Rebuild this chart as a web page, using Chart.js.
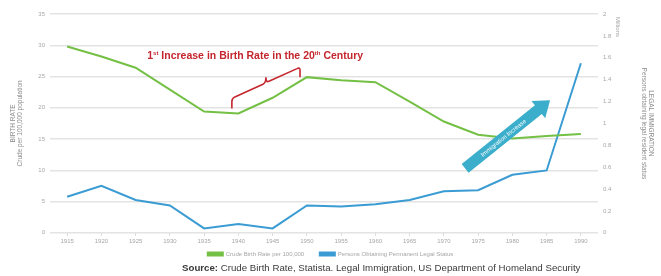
<!DOCTYPE html>
<html>
<head>
<meta charset="utf-8">
<script src="https://cdn.jsdelivr.net/npm/chart.js@4.4.1/dist/chart.umd.min.js"></script>
<style>
  html, body { margin: 0; padding: 0; background: #fff; }
  #wrap { width: 661px; height: 276px; position: relative; }
</style>
</head>
<body>
<div id="wrap"><canvas id="chart"></canvas></div>
<script>
// years on the category axis
const years = ['1915','1920','1925','1930','1935','1940','1945','1950','1955','1960','1965','1970','1975','1980','1985','1990'];
// crude birth rate (left axis)
const birthRate = [29.8, 28.2, 26.4, 22.9, 19.4, 19.1, 21.6, 24.9, 24.4, 24.1, 21.0, 17.8, 15.7, 15.1, 15.5, 15.8];
// persons obtaining permanent legal status, millions (right axis)
const immigration = [0.33, 0.43, 0.30, 0.25, 0.04, 0.08, 0.04, 0.25, 0.24, 0.26, 0.30, 0.38, 0.39, 0.53, 0.57, 1.55];

const green = '#74c045';
const blue = '#3b9bd3';
const tickColor = '#a6a6a6';

// annotation anchors in data units: [category index, left-axis value]
const braceFrom = [4.81, 19.9];
const braceTo = [6.80, 24.9];
const noteAt = [5.49, 28.3];
const arrowFrom = [11.62, 10.3];
const arrowTo = [14.10, 21.2];

const annotations = {
  id: 'annotations',
  afterDraw(chart) {
    const ctx = chart.ctx;
    const x = chart.scales.x, y = chart.scales.y;
    const px = p => [x.getPixelForValue(p[0]), y.getPixelForValue(p[1])];
    ctx.save();

    // red note with superscripts
    const [tx, ty] = px(noteAt);
    const big = 'bold 10.5px "Liberation Sans", Arial, sans-serif';
    const small = 'bold 6px "Liberation Sans", Arial, sans-serif';
    const parts = [['1', big], ['st', small], [' Increase in Birth Rate in the 20', big], ['th', small], [' Century', big]];
    let w = 0;
    parts.forEach(p => { ctx.font = p[1]; w += ctx.measureText(p[0]).width; });
    let cx = tx - w / 2;
    ctx.fillStyle = '#c4262e';
    ctx.textBaseline = 'middle';
    ctx.textAlign = 'left';
    parts.forEach(p => {
      ctx.font = p[1];
      ctx.fillText(p[0], cx, p[1] === small ? ty - 3 : ty);
      cx += ctx.measureText(p[0]).width;
    });

    // curly brace
    const [ax, ay] = px(braceFrom);
    const [bx, by] = px(braceTo);
    const h = 10;
    const mx = (ax + bx) / 2, my = (ay + by) / 2 - h;
    ctx.strokeStyle = '#c4262e';
    ctx.lineWidth = 1.6;
    ctx.lineJoin = 'round';
    ctx.beginPath();
    ctx.moveTo(ax, ay);
    ctx.lineTo(ax, ay - h + 3);
    ctx.quadraticCurveTo(ax, ay - h, ax + 3, ay - h - 1.5);
    ctx.lineTo(mx - 3, my + 1.5);
    ctx.quadraticCurveTo(mx, my, mx, my - 5);
    ctx.quadraticCurveTo(mx, my, mx + 3, my - 1.5);
    ctx.lineTo(bx - 3, by - h + 1.5);
    ctx.quadraticCurveTo(bx, by - h, bx, by - h + 3);
    ctx.lineTo(bx, by);
    ctx.stroke();

    // teal arrow
    const [sx, sy] = px(arrowFrom);
    const [ex, ey] = px(arrowTo);
    const len = Math.hypot(ex - sx, ey - sy);
    const ang = Math.atan2(ey - sy, ex - sx);
    ctx.translate(sx, sy);
    ctx.rotate(ang);
    const sw = 5.5, hw = 11, hl = 15;
    ctx.fillStyle = '#3aaecb';
    ctx.beginPath();
    ctx.moveTo(0, -sw);
    ctx.lineTo(len - hl, -sw);
    ctx.lineTo(len - hl, -hw);
    ctx.lineTo(len, 0);
    ctx.lineTo(len - hl, hw);
    ctx.lineTo(len - hl, sw);
    ctx.lineTo(0, sw);
    ctx.closePath();
    ctx.fill();
    ctx.fillStyle = '#ffffff';
    ctx.font = '6px "Liberation Sans", Arial, sans-serif';
    ctx.textAlign = 'center';
    ctx.fillText('Immigration Increase', (len - hl) / 2 + 2, 0.5);
    ctx.setTransform(1, 0, 0, 1, 0, 0);

    // "Millions" label next to the right axis
    ctx.translate(618, 27);
    ctx.rotate(Math.PI / 2);
    ctx.fillStyle = tickColor;
    ctx.font = '6px "Liberation Sans", Arial, sans-serif';
    ctx.textAlign = 'center';
    ctx.fillText('Millions', 0, 0);
    ctx.setTransform(1, 0, 0, 1, 0, 0);

    // source line
    ctx.fillStyle = '#3a3a3a';
    ctx.textAlign = 'left';
    ctx.textBaseline = 'middle';
    ctx.font = 'bold 9.7px "Liberation Sans", Arial, sans-serif';
    const s1 = 'Source: ';
    ctx.fillText(s1, 182, 268);
    const w1 = ctx.measureText(s1).width;
    ctx.font = '9.7px "Liberation Sans", Arial, sans-serif';
    ctx.fillText('Crude Birth Rate, Statista. Legal Immigration, US Department of Homeland Security', 182 + w1, 268);
    ctx.restore();
  }
};

new Chart(document.getElementById('chart'), {
  type: 'line',
  data: {
    labels: years,
    datasets: [{
      label: 'Crude Birth Rate per 100,000',
      data: birthRate,
      yAxisID: 'y',
      borderColor: green,
      backgroundColor: green,
      borderWidth: 2,
      pointRadius: 0,
      tension: 0
    }, {
      label: 'Persons Obtaining Permanent Legal Status',
      data: immigration,
      yAxisID: 'y1',
      borderColor: blue,
      backgroundColor: blue,
      borderWidth: 2,
      pointRadius: 0,
      tension: 0
    }]
  },
  options: {
    responsive: true,
    maintainAspectRatio: false,
    animation: false,
    layout: { padding: { top: 14, bottom: 9, left: 0, right: 0 } },
    plugins: {
      legend: {
        position: 'bottom',
        labels: {
          boxWidth: 15,
          boxHeight: 3,
          padding: 4,
          color: tickColor,
          font: { size: 6, family: '"Liberation Sans", Arial, sans-serif' },
          generateLabels(chart) {
            const items = Chart.defaults.plugins.legend.labels.generateLabels(chart);
            items[0].text += '       ';
            return items;
          }
        }
      },
      tooltip: { enabled: false }
    },
    scales: {
      x: {
        offset: true,
        grid: { drawOnChartArea: false, drawTicks: true, tickLength: 3, color: '#d9d9d9' },
        border: { display: false },
        ticks: { color: tickColor, font: { size: 6 }, maxRotation: 0, padding: 2 }
      },
      y: {
        position: 'left',
        min: 0, max: 35,
        ticks: { stepSize: 5, color: tickColor, font: { size: 6 }, padding: 5 },
        grid: { color: '#e3e3e3', lineWidth: 1.5, drawTicks: false },
        border: { display: false },
        title: {
          display: true,
          text: ['BIRTH RATE', 'Crude per 100,000 population'],
          color: '#8c8c8c',
          font: { size: 6.5 },
          padding: { top: 9, bottom: 0 }
        },
        afterFit(scale) { scale.width = 50; }
      },
      y1: {
        position: 'right',
        min: 0, max: 2,
        ticks: {
          stepSize: 0.2, color: tickColor, font: { size: 6 }, padding: 5,
          callback: v => String(Number(v.toFixed(1)))
        },
        grid: { drawOnChartArea: false, drawTicks: false },
        border: { display: false },
        title: {
          display: true,
          text: ['LEGAL IMMIGRATION', 'Persons obtaining legal resident status'],
          color: '#8c8c8c',
          font: { size: 6.5 },
          padding: { top: 6, bottom: 0 }
        },
        afterFit(scale) { scale.width = 63; }
      }
    }
  },
  plugins: [annotations]
});
</script>
</body>
</html>
